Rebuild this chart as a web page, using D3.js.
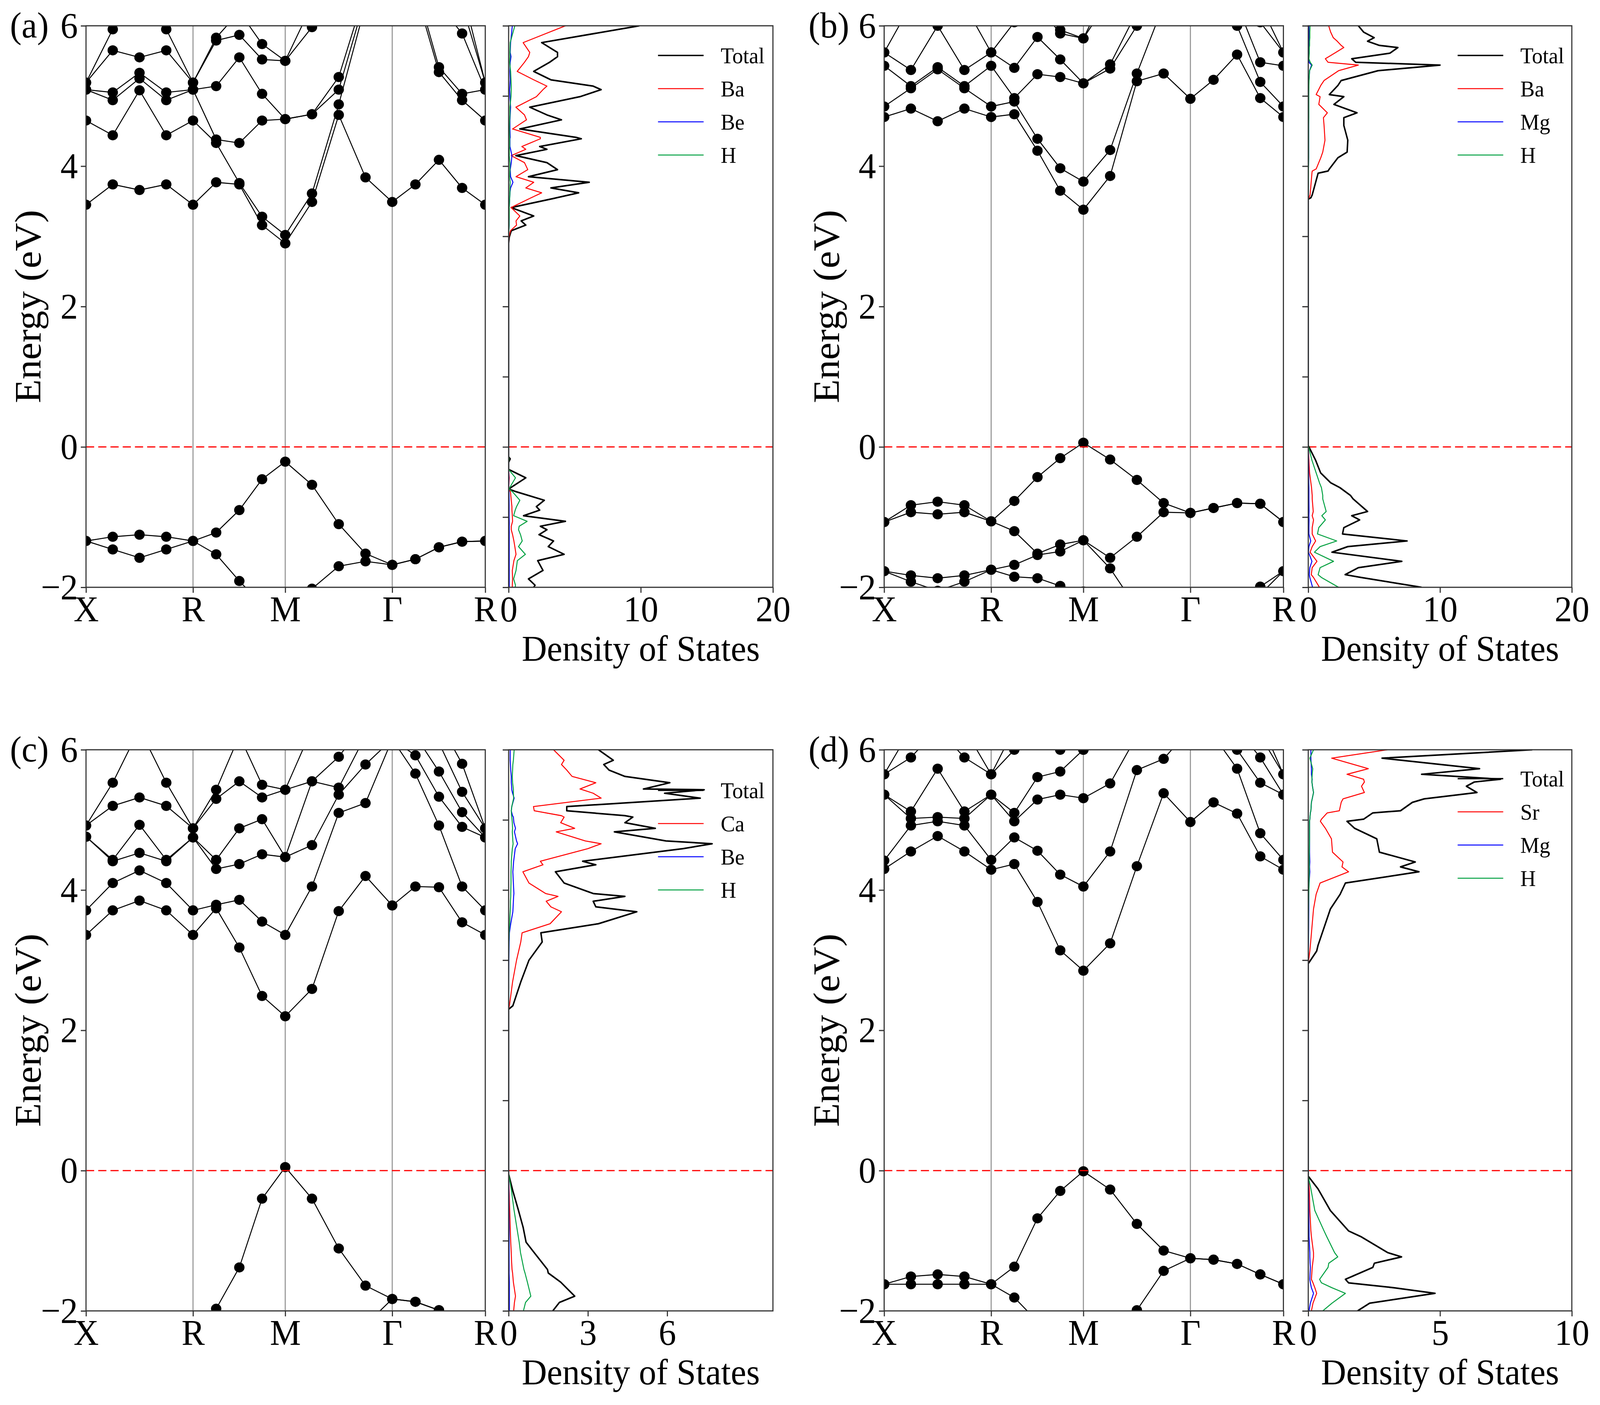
<!DOCTYPE html>
<html>
<head>
<meta charset="utf-8">
<script src="https://cdn.jsdelivr.net/npm/d3@7/dist/d3.min.js"></script>
<style>
html, body { margin: 0; padding: 0; background: #fff; overflow: hidden; }
#chart { width: 100vw; height: 100vh; }
svg { display: block; width: 100%; height: 100%; }
text { font-family: "Liberation Serif", "Times New Roman", serif; fill: #000; }
</style>
</head>
<body>
<div id="chart"></div>
<script>
// k-path (fractional position along the path) and high-symmetry labels
var kpts = [0, .067, .134, .201, .268, .326, .384, .441, .499, .566, .633, .700, .767, .825, .884, .942, 1.0];
var kTickPos = [0, .268, .499, .767, 1.0];
var kTickLab = ['X', 'R', 'M', '\u0393', 'R'];

// ---- band energies (eV), one row per band, one value per k point ----
var bands_a = [
  [-1.34,-1.28,-1.25,-1.28,-1.34,-1.22,-0.90,-0.46,-0.21,-0.54,-1.10,-1.52,-1.68,-1.60,-1.43,-1.35,-1.34],
  [-1.34,-1.46,-1.58,-1.46,-1.34,-1.53,-1.91,-2.25,-2.15,-2.02,-1.70,-1.63,-1.68,-1.60,-1.43,-1.35,-1.34],
  [3.45,3.74,3.66,3.74,3.45,3.77,3.74,3.16,2.90,3.49,4.73,3.84,3.49,3.74,4.09,3.69,3.45],
  [4.65,4.44,5.08,4.44,4.65,4.33,3.76,3.28,3.02,3.61,4.88,6.30,6.70,6.50,5.34,4.94,4.65],
  [5.09,4.94,5.25,4.94,5.09,4.38,4.33,4.65,4.67,4.74,5.09,6.40,6.70,6.60,5.41,5.03,5.09],
  [5.09,5.05,5.33,5.05,5.09,5.14,5.55,5.03,4.67,4.74,5.27,6.50,6.80,6.70,6.30,5.89,5.09],
  [5.19,5.65,5.55,5.65,5.19,5.79,5.87,5.52,5.50,5.98,6.40,6.60,6.80,6.80,6.50,6.30,5.19],
  [5.19,5.95,6.30,5.95,5.19,5.83,6.20,5.74,5.50,6.30,6.60,6.70,6.90,6.90,6.70,6.50,5.19]
];
var bands_b = [
  [-1.07,-0.83,-0.78,-0.83,-1.06,-0.77,-0.43,-0.16,0.06,-0.18,-0.47,-0.80,-0.94,-0.87,-0.80,-0.81,-1.07],
  [-1.07,-0.93,-0.96,-0.93,-1.06,-1.20,-1.52,-1.39,-1.33,-1.58,-1.28,-0.93,-0.94,-0.87,-0.80,-0.81,-1.07],
  [-1.77,-1.83,-1.87,-1.83,-1.75,-1.68,-1.54,-1.49,-1.33,-1.73,-2.30,-2.50,-2.60,-2.50,-2.25,-1.99,-1.77],
  [-1.77,-1.92,-2.05,-1.92,-1.75,-1.85,-1.87,-1.98,-2.06,-2.40,-2.60,-2.70,-2.70,-2.60,-2.40,-2.10,-1.77],
  [4.70,4.82,4.64,4.82,4.70,4.74,4.22,3.65,3.38,3.86,5.21,5.32,4.96,5.23,5.59,4.97,4.70],
  [4.85,5.11,5.38,5.11,4.85,4.92,4.39,3.97,3.78,4.23,5.32,6.30,6.60,6.50,6.00,5.20,4.85],
  [5.43,5.14,5.41,5.14,5.43,4.97,5.31,5.27,5.18,5.39,6.00,6.50,6.70,6.60,6.30,5.48,5.43],
  [5.62,5.37,6.00,5.37,5.62,5.40,5.84,5.52,5.18,5.45,6.20,6.60,6.80,6.70,6.40,6.05,5.62],
  [5.62,6.30,6.40,6.30,5.62,6.05,6.30,5.89,5.82,6.40,6.60,6.80,6.90,6.90,6.70,6.30,5.62],
  [6.40,6.60,6.70,6.60,6.40,6.30,6.40,5.94,5.82,6.60,6.80,6.90,7.00,7.00,6.90,6.60,6.40]
];
var bands_c = [
  [-2.60,-2.70,-2.75,-2.70,-2.40,-1.97,-1.38,-0.40,0.05,-0.40,-1.11,-1.64,-1.83,-1.87,-1.99,-2.20,-2.40],
  [-2.80,-2.90,-2.90,-2.90,-2.60,-2.60,-2.70,-2.80,-2.90,-2.80,-2.60,-2.20,-1.83,-1.87,-1.99,-2.20,-2.40],
  [3.36,3.71,3.85,3.71,3.36,3.74,3.18,2.49,2.20,2.59,3.70,4.20,3.78,4.05,4.04,3.54,3.36],
  [3.71,4.10,4.28,4.10,3.71,3.79,3.86,3.55,3.36,4.05,5.10,5.24,6.15,5.66,4.92,4.05,3.71],
  [4.76,4.41,4.53,4.41,4.75,4.30,4.37,4.51,4.47,4.64,5.36,5.79,6.15,5.92,5.33,4.90,4.75],
  [4.76,4.43,4.93,4.43,4.75,4.43,4.88,5.01,4.47,5.55,5.46,6.20,6.40,6.20,5.69,5.11,4.75],
  [4.92,5.20,5.32,5.20,4.88,5.30,5.55,5.32,5.43,5.55,5.90,6.40,6.40,6.40,6.10,5.40,4.88],
  [4.92,5.53,6.30,5.53,4.88,5.43,6.20,5.50,5.43,6.30,6.30,6.50,6.60,6.60,6.40,5.80,4.88]
];
var bands_d = [
  [-1.62,-1.51,-1.48,-1.51,-1.62,-1.37,-0.68,-0.29,-0.01,-0.27,-0.76,-1.14,-1.25,-1.27,-1.33,-1.48,-1.62],
  [-1.62,-1.62,-1.62,-1.62,-1.62,-1.81,-2.15,-2.40,-2.60,-2.40,-1.99,-1.43,-1.25,-1.27,-1.33,-1.48,-1.62],
  [4.30,4.55,4.77,4.55,4.29,4.37,3.83,3.14,2.85,3.24,4.34,5.38,4.97,5.25,5.09,4.48,4.29],
  [4.42,4.92,4.98,4.92,4.43,4.75,4.56,4.22,4.05,4.55,5.71,5.87,6.30,6.20,5.73,4.81,4.43],
  [5.36,5.02,5.04,5.02,5.36,4.98,5.29,5.36,5.31,5.52,6.20,6.40,6.50,6.40,6.00,5.53,5.36],
  [5.36,5.12,5.73,5.12,5.36,5.10,5.61,5.69,6.00,6.30,6.40,6.50,6.60,6.60,6.30,5.89,5.36],
  [5.65,5.89,6.30,5.89,5.65,6.00,6.30,6.00,6.00,6.50,6.60,6.70,6.80,6.80,6.50,6.20,5.65],
  [5.65,6.30,6.50,6.30,5.65,6.30,6.50,6.30,6.10,6.70,6.80,6.90,7.00,7.00,6.70,6.40,5.65]
];

// ---- density of states: energy grid and the four curves per panel ----
var dosE_a   = [6.00,5.76,5.62,5.56,5.48,5.35,5.23,5.14,5.09,4.99,4.84,4.73,4.66,4.53,4.41,4.39,4.28,4.24,4.15,4.05,3.95,3.85,3.77,3.69,3.62,3.54,3.41,3.29,3.22,3.16,3.08,2.99,2.90,-0.14,-0.17,-0.22,-0.32,-0.44,-0.60,-0.64,-0.76,-0.85,-0.90,-0.98,-1.06,-1.13,-1.18,-1.25,-1.34,-1.42,-1.53,-1.62,-1.76,-1.88,-1.97,-2.00];
var dosTot_a = [9.9,2.5,3.7,3.7,3.1,1.9,3.2,6.4,7.0,5.4,1.6,2.9,4.0,0.85,5.1,5.5,2.35,2.9,0.55,2.9,3.7,1.5,6.1,3.2,5.3,3.4,0.2,1.9,0.95,1.3,0.2,0.05,0,0,0.12,0,0,1.3,0,0.6,2.7,2.1,2.35,1.13,4.3,2.4,2.9,2.3,3.4,3.0,4.2,2.2,2.6,1.5,2.0,1.9];
var dosBa_a  = [4.3,1.1,1.6,1.5,1.2,0.65,1.9,2.9,2.6,2.1,0.55,1.2,1.35,0.3,2.4,2.4,1.0,1.3,0.2,1.2,1.45,0.56,1.9,1.3,2.5,1.6,0.19,0.85,0.56,0.6,0.14,0.02,0,0,0.02,0,0,0.05,0,0.14,0.2,0.25,0.25,0.28,0.3,0.2,0.2,0.3,0.4,0.47,0.56,0.4,0.28,0.3,0.28,0.28];
var dosBe_a  = [0.28,0.15,0.12,0.18,0.12,0.1,0.12,0.1,0.08,0.1,0.15,0.12,0.1,0.1,0.12,0.1,0.1,0.15,0.25,0.2,0.12,0.15,0.33,0.15,0.1,0.08,0.05,0.05,0.04,0.04,0.02,0,0,0,0,0,0,0.02,0,0.03,0.04,0.04,0.04,0.04,0.05,0.05,0.05,0.05,0.05,0.05,0.05,0.05,0.05,0.05,0.05,0.05];
var dosH_a   = [0.47,0.12,0.1,0.1,0.08,0.15,0.18,0.2,0.2,0.18,0.1,0.1,0.08,0.06,0.08,0.08,0.08,0.06,0.05,0.1,0.1,0.08,0.12,0.1,0.1,0.08,0.05,0.05,0.04,0.04,0.02,0,0,0,0.03,0,0,0.52,0.02,0.3,0.85,0.6,0.5,0.38,1.4,0.8,0.75,0.9,1.03,0.75,1.27,0.66,0.56,0.38,0.52,0.5];

var dosE_b   = [6.00,5.91,5.83,5.78,5.72,5.69,5.61,5.53,5.48,5.44,5.36,5.22,5.15,5.02,4.99,4.88,4.76,4.69,4.58,4.37,4.20,4.12,3.96,3.93,3.90,3.59,3.55,3.53,0.02,-0.19,-0.37,-0.51,-0.58,-0.69,-0.74,-0.92,-0.98,-1.04,-1.15,-1.24,-1.34,-1.42,-1.50,-1.63,-1.72,-1.82,-1.86,-2.00];
var dosTot_b = [3.8,4.2,5.0,4.5,5.4,6.8,6.2,3.3,3.6,10.0,5.3,2.5,2.25,1.6,2.7,1.95,3.7,2.7,2.7,3.0,2.95,2.25,1.6,1.5,0.75,0.3,0.2,0,0,0.56,0.94,1.7,2.4,3.2,3.4,4.5,3.3,3.9,2.7,2.6,7.5,3.0,1.8,7.1,3.8,2.8,4.0,8.6];
var dosBa_b  = [1.55,1.7,1.9,2.2,2.5,2.7,2.0,1.3,1.5,3.8,2.3,1.2,0.95,0.6,0.9,0.8,1.45,1.15,1.2,1.27,1.1,0.95,0.6,0.3,0.28,0.14,0.05,0,0,0.05,0.1,0.2,0.25,0.3,0.3,0.38,0.3,0.4,0.3,0.3,0.56,0.3,0.14,0.66,0.3,0.23,0.4,0.85];
var dosMg_b  = [0.05,0.05,0.05,0.05,0.05,0.05,0.05,0.05,0.05,0.25,0.1,0.05,0.04,0.03,0.03,0.03,0.03,0.03,0.03,0.03,0.03,0.03,0.02,0.02,0.02,0.01,0,0,0,0.02,0.03,0.04,0.05,0.05,0.05,0.06,0.05,0.06,0.05,0.05,0.19,0.05,0.02,0.28,0.12,0.08,0.12,0.33];
var dosH_b   = [0.14,0.12,0.12,0.1,0.1,0.08,0.08,0.05,0.15,0.3,0.1,0.06,0.05,0.04,0.04,0.04,0.04,0.04,0.03,0.03,0.03,0.03,0.02,0.02,0.02,0.01,0,0,0,0.28,0.6,0.85,1.0,1.1,1.1,1.36,1.03,1.3,0.8,0.7,2.16,0.9,0.47,1.92,0.9,0.75,1.0,2.3];

var dosE_c   = [6.00,5.85,5.79,5.71,5.62,5.53,5.44,5.43,5.38,5.31,5.19,5.13,5.06,5.04,4.96,4.88,4.83,4.70,4.66,4.59,4.41,4.36,4.26,4.10,3.95,3.91,3.84,3.76,3.69,3.52,3.39,3.26,3.00,2.69,2.35,2.30,-0.05,-0.29,-0.55,-0.81,-1.02,-1.17,-1.28,-1.41,-1.46,-1.59,-1.79,-1.88,-2.00];
var dosTot_c = [3.4,3.96,3.6,3.8,4.4,6.1,5.1,7.4,5.9,7.25,2.2,2.2,4.4,4.7,4.4,5.55,4.0,5.95,7.7,6.6,2.8,3.3,1.77,2.1,3.2,4.4,3.2,3.3,4.85,3.4,1.22,1.27,0.77,0.46,0.16,0,0,0.16,0.36,0.55,0.66,0.97,1.2,1.47,1.5,1.97,2.5,1.92,1.67];
var dosCa_c  = [1.7,2.1,2.0,2.2,2.4,3.3,2.7,2.8,3.2,3.5,0.94,0.97,2.0,2.1,1.97,2.5,1.8,2.9,3.5,3.0,1.2,1.3,0.54,0.77,1.4,1.87,1.42,1.6,2.0,1.57,0.51,0.46,0.3,0.15,0.03,0,0,0.02,0.04,0.06,0.08,0.1,0.11,0.13,0.15,0.18,0.26,0.22,0.19];
var dosBe_c  = [0.06,0.06,0.07,0.08,0.1,0.1,0.12,0.12,0.15,0.21,0.12,0.1,0.15,0.18,0.2,0.26,0.22,0.3,0.34,0.25,0.19,0.18,0.16,0.18,0.2,0.19,0.18,0.17,0.16,0.08,0.03,0.02,0.01,0,0,0,0,0.01,0.01,0.02,0.02,0.02,0.02,0.02,0.02,0.03,0.03,0.03,0.03];
var dosH_c   = [0.21,0.18,0.16,0.15,0.14,0.15,0.18,0.18,0.18,0.19,0.12,0.1,0.11,0.12,0.14,0.15,0.14,0.16,0.17,0.14,0.1,0.1,0.09,0.09,0.08,0.08,0.07,0.07,0.06,0.04,0.02,0.01,0,0,0,0,0,0.11,0.2,0.31,0.4,0.45,0.51,0.58,0.62,0.71,0.84,0.64,0.56];

var dosE_d   = [6.00,5.88,5.73,5.65,5.58,5.54,5.48,5.39,5.30,5.25,5.13,5.10,5.01,4.98,4.88,4.73,4.54,4.40,4.33,4.26,4.10,3.94,3.73,3.21,3.13,2.95,-0.08,-0.26,-0.57,-0.86,-0.94,-1.17,-1.23,-1.32,-1.38,-1.55,-1.60,-1.67,-1.75,-1.89,-2.00];
var dosTot_d = [8.5,2.8,6.5,4.3,7.3,6.3,6.0,6.4,4.4,3.95,3.5,2.45,2.1,1.47,1.76,2.6,2.7,4.06,3.5,4.2,1.41,1.21,0.84,0.37,0.32,0,0,0.37,0.84,1.53,1.99,3.02,3.54,2.51,2.45,1.41,1.53,3.25,4.81,2.33,1.87];
var dosSr_d  = [3.0,0.89,2.28,1.47,2.1,2.13,2.02,2.13,1.32,1.25,1.18,0.72,0.5,0.46,0.65,0.88,0.92,1.32,1.28,1.53,0.45,0.3,0.2,0.08,0.06,0,0,0.04,0.06,0.1,0.12,0.2,0.2,0.17,0.15,0.12,0.18,0.25,0.32,0.18,0.12];
var dosMg_d  = [0.1,0.1,0.12,0.12,0.15,0.14,0.16,0.2,0.15,0.12,0.1,0.08,0.06,0.05,0.05,0.05,0.05,0.06,0.05,0.06,0.03,0.02,0.02,0.01,0,0,0,0.01,0.02,0.03,0.03,0.06,0.06,0.07,0.08,0.06,0.08,0.12,0.2,0.08,0.03];
var dosH_d   = [0.2,0.06,0.17,0.15,0.14,0.14,0.16,0.2,0.15,0.12,0.1,0.08,0.06,0.05,0.05,0.05,0.04,0.04,0.04,0.04,0.03,0.02,0.01,0,0,0,0,0.1,0.25,0.6,0.7,1.0,1.12,0.78,0.75,0.43,0.5,0.9,1.41,0.9,0.55];

// legend names and colours
var names_a = ['Total', 'Ba', 'Be', 'H'];
var names_b = ['Total', 'Ba', 'Mg', 'H'];
var names_c = ['Total', 'Ca', 'Be', 'H'];
var names_d = ['Total', 'Sr', 'Mg', 'H'];
var dosColors = ['#000000', '#ff0000', '#0000ff', '#00a040'];
var dosWidths = [4, 2.6, 2.6, 2.6];

// layout (in the 4316 x 3598 picture frame)
var W = 4316, H = 3598;
var cols = [
  {bandL: 232, bandR: 1309, dosL: 1372, dosR: 2085, tagX: 27},
  {bandL: 2385, bandR: 3462, dosL: 3529, dosR: 4240, tagX: 2181}
];
var rows = [{top: 66, bottom: 1504}, {top: 1920, bottom: 3357}];

var panels = [
  {tag: '(a)', col: 0, row: 0, bands: bands_a, dosE: dosE_a, dos: [dosTot_a, dosBa_a, dosBe_a, dosH_a], names: names_a, dosMax: 20, dosTicks: [0, 10, 20], legTop: 76},
  {tag: '(b)', col: 1, row: 0, bands: bands_b, dosE: dosE_b, dos: [dosTot_b, dosBa_b, dosMg_b, dosH_b], names: names_b, dosMax: 20, dosTicks: [0, 10, 20], legTop: 76},
  {tag: '(c)', col: 0, row: 1, bands: bands_c, dosE: dosE_c, dos: [dosTot_c, dosCa_c, dosBe_c, dosH_c], names: names_c, dosMax: 10, dosTicks: [0, 3, 6], legTop: 104},
  {tag: '(d)', col: 1, row: 1, bands: bands_d, dosE: dosE_d, dos: [dosTot_d, dosSr_d, dosMg_d, dosH_d], names: names_d, dosMax: 10, dosTicks: [0, 5, 10], legTop: 74}
];

// stretch the frame over the whole viewport
var svg = d3.select('#chart').append('svg')
  .attr('viewBox', '0 0 ' + W + ' ' + H)
  .attr('preserveAspectRatio', 'none');
svg.append('rect').attr('width', W).attr('height', H).attr('fill', '#fff');

var FS = 94;      // tick / axis label size
var LFS = 58;     // legend text size

function styleAxis(g) {
  g.attr('font-size', null).attr('font-family', null);
  g.select('.domain').remove();
  g.selectAll('.tick line').attr('stroke', '#333').attr('stroke-width', 3);
  g.selectAll('.tick text').style('font-size', FS + 'px');
}

panels.forEach(function(p, pi) {
  var c = cols[p.col], r = rows[p.row];
  var y = d3.scaleLinear().domain([-2, 6]).range([r.bottom, r.top]);
  var xk = d3.scaleLinear().domain([0, 1]).range([c.bandL, c.bandR]);
  var xd = d3.scaleLinear().domain([0, p.dosMax]).range([c.dosL, c.dosR]);

  var defs = svg.append('defs');
  defs.append('clipPath').attr('id', 'cb' + pi).append('rect')
    .attr('x', c.bandL).attr('y', r.top).attr('width', c.bandR - c.bandL).attr('height', r.bottom - r.top);
  defs.append('clipPath').attr('id', 'cd' + pi).append('rect')
    .attr('x', c.dosL).attr('y', r.top).attr('width', c.dosR - c.dosL).attr('height', r.bottom - r.top);

  // ---- band structure ----
  var gb = svg.append('g').attr('clip-path', 'url(#cb' + pi + ')');
  gb.selectAll('.kline').data(kTickPos.slice(1, 4)).enter().append('line')
    .attr('x1', function(d) { return xk(d); }).attr('x2', function(d) { return xk(d); })
    .attr('y1', r.top).attr('y2', r.bottom)
    .attr('stroke', '#999').attr('stroke-width', 3);

  var line = d3.line().x(function(d, i) { return xk(kpts[i]); }).y(function(d) { return y(d); });
  gb.selectAll('.band').data(p.bands).enter().append('path')
    .attr('d', line).attr('fill', 'none').attr('stroke', '#000').attr('stroke-width', 2.6);
  p.bands.forEach(function(b) {
    gb.selectAll(null).data(b).enter().append('ellipse')
      .attr('cx', function(d, i) { return xk(kpts[i]); })
      .attr('cy', function(d) { return y(d); })
      .attr('rx', 14).attr('ry', 13).attr('fill', '#000');
  });
  svg.append('line').attr('x1', c.bandL).attr('x2', c.bandR).attr('y1', y(0)).attr('y2', y(0))
    .attr('stroke', '#ff0000').attr('stroke-width', 3).attr('stroke-dasharray', '22,11');

  svg.append('rect').attr('x', c.bandL).attr('y', r.top)
    .attr('width', c.bandR - c.bandL).attr('height', r.bottom - r.top)
    .attr('fill', 'none').attr('stroke', '#333').attr('stroke-width', 3);

  svg.append('g').attr('transform', 'translate(' + c.bandL + ',0)')
    .call(d3.axisLeft(y).tickValues([-2, 0, 2, 4, 6]).tickSize(14).tickPadding(8))
    .call(styleAxis);
  svg.append('g').attr('transform', 'translate(0,' + r.bottom + ')')
    .call(d3.axisBottom(xk).tickValues(kTickPos).tickFormat(function(d, i) { return kTickLab[i]; }).tickSize(14).tickPadding(6))
    .call(styleAxis);

  svg.append('text').attr('transform', 'translate(' + (c.bandL - 122) + ',' + ((r.top + r.bottom) / 2) + ') rotate(-90)')
    .attr('text-anchor', 'middle').style('font-size', '100px').text('Energy (eV)');
  svg.append('text').attr('x', c.tagX).attr('y', r.top + 30)
    .style('font-size', FS + 'px').text(p.tag);

  // ---- density of states ----
  var gd = svg.append('g').attr('clip-path', 'url(#cd' + pi + ')');
  gd.append('line').attr('x1', c.dosL).attr('x2', c.dosR).attr('y1', y(0)).attr('y2', y(0))
    .attr('stroke', '#ff0000').attr('stroke-width', 3).attr('stroke-dasharray', '22,11');
  var dline = d3.line().x(function(d) { return xd(d[0]); }).y(function(d) { return y(d[1]); });
  p.dos.forEach(function(vals, si) {
    gd.append('path')
      .attr('d', dline(vals.map(function(v, i) { return [v, p.dosE[i]]; })))
      .attr('fill', 'none').attr('stroke', dosColors[si]).attr('stroke-width', dosWidths[si])
      .attr('stroke-linejoin', 'round');
  });

  svg.append('rect').attr('x', c.dosL).attr('y', r.top)
    .attr('width', c.dosR - c.dosL).attr('height', r.bottom - r.top)
    .attr('fill', 'none').attr('stroke', '#333').attr('stroke-width', 3);
  svg.append('g').attr('transform', 'translate(' + c.dosL + ',0)')
    .call(d3.axisLeft(y).tickValues(d3.range(-2, 7)).tickFormat('').tickSize(16))
    .call(styleAxis);
  svg.append('g').attr('transform', 'translate(0,' + r.bottom + ')')
    .call(d3.axisBottom(xd).tickValues(p.dosTicks).tickSize(14).tickPadding(6))
    .call(styleAxis);
  svg.append('text').attr('x', (c.dosL + c.dosR) / 2).attr('y', r.bottom + 188)
    .attr('text-anchor', 'middle').style('font-size', FS + 'px').text('Density of States');

  // legend
  var lg = svg.append('g').attr('transform', 'translate(' + c.dosL + ',' + (r.top + p.legTop) + ')');
  p.names.forEach(function(nm, i) {
    lg.append('line').attr('x1', 403).attr('x2', 526).attr('y1', i * 85).attr('y2', i * 85)
      .attr('stroke', dosColors[i]).attr('stroke-width', i === 0 ? 3.5 : 2.6);
    lg.append('text').attr('x', 572).attr('y', i * 85).attr('dy', '0.35em')
      .style('font-size', LFS + 'px').text(nm);
  });
});
</script>
</body>
</html>
